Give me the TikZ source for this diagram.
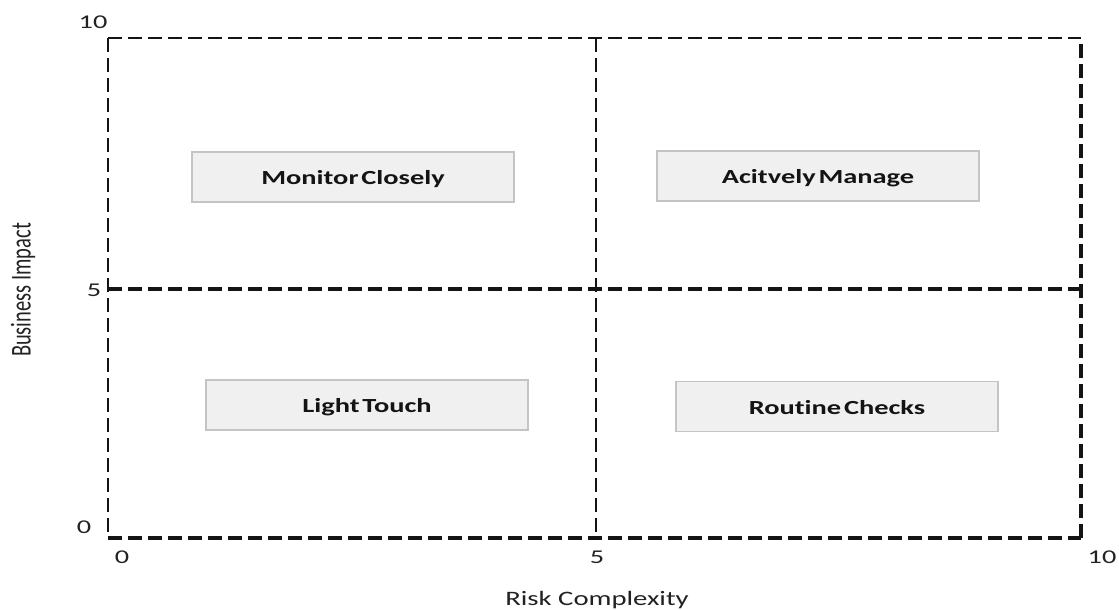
\documentclass[tikz,border=0pt]{standalone}
\usepackage{fontspec}
\setmainfont{Carlito}[Ligatures=NoCommon]
\definecolor{boxfill}{HTML}{F0F0F0}
\definecolor{boxline}{HTML}{C4C4C4}
\definecolor{inkc}{HTML}{141414}
\definecolor{axisc}{HTML}{222222}
\tikzset{
  grid line/.style={draw=inkc, dash pattern=on 14pt off 6pt},
  quadbox/.style={draw=boxline, line width=1.2pt, fill=boxfill,
    minimum width=322pt, minimum height=50pt, inner sep=0pt,
    text height=16pt, text depth=1pt,
    text=inkc, font=\fontsize{20}{22}\selectfont\bfseries},
  ticklabel/.style={text=axisc, inner sep=0pt, font=\fontsize{19.5}{21}\selectfont},
  axislabel/.style={text=axisc, inner sep=0pt, font=\fontsize{20.5}{22}\selectfont}
}
\newcommand{\wide}[2][1.45]{\scalebox{#1}[1]{#2}}
\newcommand{\tsp}{\hspace{0.1em}}
\begin{document}
\begin{tikzpicture}[x=1pt,y=-1pt]
  \useasboundingbox[fill=white] (0,0) rectangle (1119,610);
  % frame corners and midpoints
  \coordinate (tl) at (108,38);
  \coordinate (tr) at (1081,38);
  \coordinate (bl) at (108,538);
  \coordinate (br) at (1081,538);
  \coordinate (tm) at (596,38);
  \coordinate (bm) at (596,538);
  \coordinate (lm) at (108,289);
  \coordinate (rm) at (1081,289);
  % outer frame
  \draw[grid line, line width=1.8pt] (tl) -- (tr);
  \draw[grid line, line width=1.8pt] (tl) -- (bl);
  \draw[grid line, line width=3.2pt] (bl) -- (br);
  \draw[grid line, line width=4.2pt] (br) -- (tr);
  % quadrant dividers
  \draw[grid line, line width=1.5pt] (tm) -- (bm);
  \draw[grid line, line width=3.2pt] (lm) -- (rm);
  % quadrant boxes
  \node[quadbox] (mc) at (353,177) {\wide[1.42]{Monitor\tsp Closely}};
  \node[quadbox] (am) at (818,176) {\wide[1.42]{Acitvely\tsp Manage}};
  \node[quadbox] (lt) at (367,405) {\wide[1.42]{Light\tsp Touch}};
  \node[quadbox] (rc) at (837,406.5) {\wide[1.42]{Routine\tsp Checks}};
  % tick labels
  \node[ticklabel] (y10) at (93,22) {\wide{10}};
  \node[ticklabel] (y5) at (94,290) {\wide{5}};
  \node[ticklabel] (y0) at (84,527) {\wide{0}};
  \node[ticklabel] (x0) at (122,557) {\wide{0}};
  \node[ticklabel] (x5) at (597,557) {\wide{5}};
  \node[ticklabel] (x10) at (1102,557) {\wide{10}};
  % axis titles
  \node[axislabel] (xt) at (597,600) {\wide[1.4]{Risk Complexity}};
  \node[axislabel, rotate=90] (yt) at (23,290) {\scalebox{1}[1.4]{Business Impact}};
\end{tikzpicture}
\end{document}
